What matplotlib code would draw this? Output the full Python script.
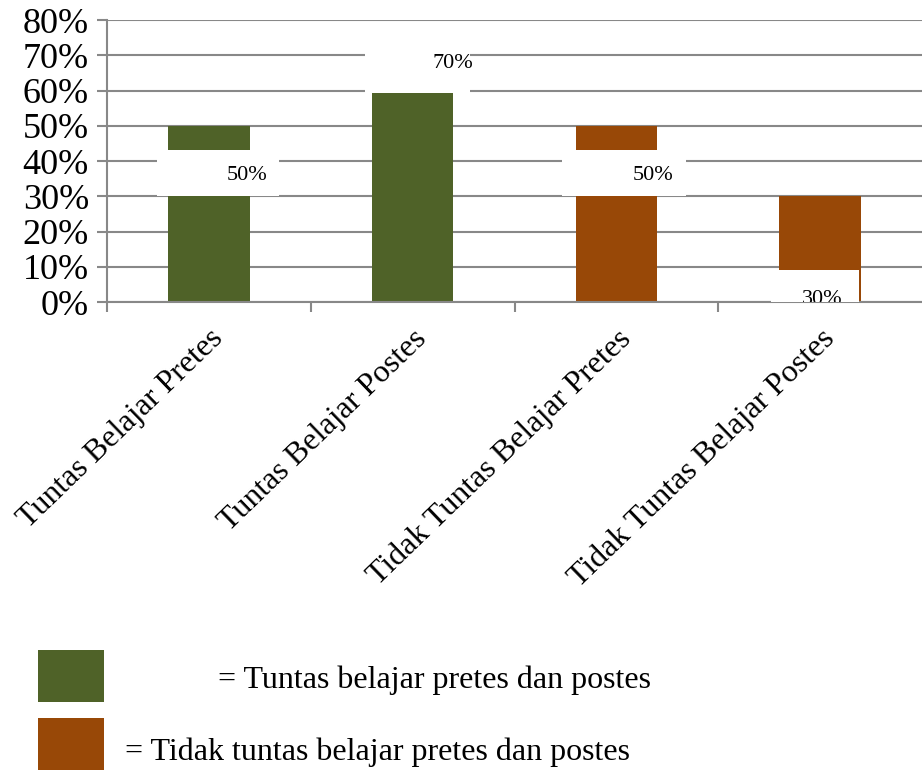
import matplotlib.pyplot as plt
from matplotlib.patches import Rectangle
from matplotlib.ticker import FixedLocator, PercentFormatter

plt.rcParams['font.family'] = ['Liberation Serif', 'DejaVu Serif']

categories = ['Tuntas Belajar Pretes', 'Tuntas Belajar Postes',
              'Tidak Tuntas Belajar Pretes', 'Tidak Tuntas Belajar Postes']
values = [50, 70, 50, 30]
labels = ['50%', '70%', '50%', '30%']
legend_texts = ['= Tuntas belajar pretes dan postes',
                '= Tidak tuntas belajar pretes dan postes']

green = '#4f6228'
orange = '#984807'
bar_colors = [green, green, orange, orange]
grid_col = '#888888'

# white label boxes (x from/to relative to bar centre, y from/to in %)
boxes = [(-0.255, 0.343, 30.0, 43.1),
         (-0.235, 0.284, 59.3, 73.0),
         (-0.265, 0.340, 30.0, 43.1),
         (-0.240, 0.190, -2.0, 9.2)]
# label text positions (x offset, y in %)
label_pos = [(0.186, 35.8), (0.196, 67.8), (0.180, 35.8), (0.010, 0.6)]

fig = plt.figure(figsize=(9.22, 7.71), dpi=100)
ax = fig.add_axes([107 / 922, 469 / 771, 815 / 922, 282 / 771])

x = list(range(len(categories)))
ax.bar(x, values, width=0.4, color=bar_colors, zorder=2)

for xi, (x0, x1, y0, y1) in zip(x, boxes):
    ax.add_patch(Rectangle((xi + x0, y0), x1 - x0, y1 - y0,
                           facecolor='white', edgecolor='none', zorder=3))
for xi, lab, (dx, ty) in zip(x, labels, label_pos):
    ax.text(xi + dx, ty, lab, ha='center', va='center', fontsize=16,
            zorder=4, clip_on=True)

ax.set_xlim(-0.5, 3.5)
ax.set_ylim(0, 80)
ax.yaxis.set_major_locator(FixedLocator(range(0, 81, 10)))
ax.yaxis.set_major_formatter(PercentFormatter(decimals=0))
ax.grid(axis='y', color=grid_col, linewidth=1.5, zorder=1)
ax.set_axisbelow(True)

ax.set_xticks(x)
ax.set_xticklabels(categories, rotation=44, ha='right', va='top',
                   rotation_mode='anchor', fontsize=23)
ax.set_xticks([-0.5, 0.5, 1.5, 2.5], minor=True)
ax.tick_params(axis='x', which='major', length=0, pad=16)
ax.tick_params(axis='x', which='minor', length=7, width=1.5, color=grid_col,
               direction='out')
ax.tick_params(axis='y', length=7, width=1.5, color=grid_col, pad=6,
               labelsize=26)
for side in ['top', 'right']:
    ax.spines[side].set_visible(False)
for side in ['left', 'bottom']:
    ax.spines[side].set_color(grid_col)
    ax.spines[side].set_linewidth(1.5)
    ax.spines[side].set_zorder(2.5)

# legend swatches below the chart
W, H = 922, 771
fig.patches.append(Rectangle((38 / W, (H - 702) / H), 66 / W, 52 / H,
                             facecolor=green, edgecolor='none',
                             transform=fig.transFigure))
fig.patches.append(Rectangle((38 / W, (H - 770) / H), 66 / W, 52 / H,
                             facecolor=orange, edgecolor='none',
                             transform=fig.transFigure))
fig.text(218 / W, (H - 680) / H, legend_texts[0], fontsize=23, va='center')
fig.text(125 / W, (H - 752) / H, legend_texts[1], fontsize=23, va='center')

fig.savefig('out.png', dpi=100)
